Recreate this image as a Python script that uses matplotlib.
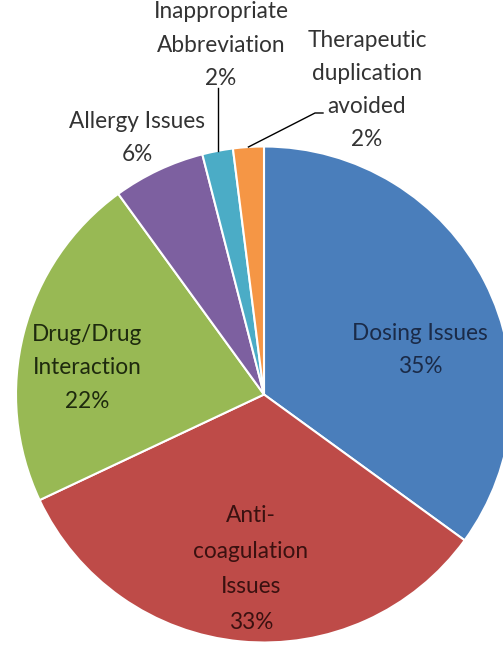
# Pie chart of intervention categories (Excel 2007 style)

import numpy as np
import matplotlib
matplotlib.use("Agg")
import matplotlib.pyplot as plt

# Data
categories = ['Dosing Issues', 'Anti-\ncoagulation\nIssues', 'Drug/Drug\nInteraction',
              'Allergy Issues', 'Inappropriate\nAbbreviation', 'Therapeutic\nduplication\navoided']
percents = [35, 33, 22, 6, 2, 2]

colors = ['#4A7EBB', '#BE4B48', '#98B954', '#7D60A0', '#4BACC6', '#F59645']
text_colors = ['#1B2B48', '#3A1110', '#1E2A0E', '#333333', '#333333', '#333333']

plt.rcParams['font.family'] = ['Lato', 'DejaVu Sans']

W, H = 503, 649
fig = plt.figure(figsize=(W / 100, H / 100), dpi=100)
ax = fig.add_axes([0, 0, 1, 1])

cx, cy, r = 264, H - 394.5, 248

wedges, _ = ax.pie(percents, colors=colors, startangle=90, counterclock=False,
                   center=(cx, cy), radius=r, frame=True,
                   wedgeprops=dict(edgecolor='white', linewidth=1.5))
ax.set_xlim(0, W)
ax.set_ylim(0, H)
ax.axis('off')

# label centres in pixel coords (x, y from top), line spacing per label
label_pos = [(420, 350), (251, 569), (87, 368), (137, 138), (221, 45), (367, 90)]
spacing = [1.72, 1.85, 1.72, 1.72, 1.72, 1.72]

for cat, p, tc, (lx, ly), ls in zip(categories, percents, text_colors, label_pos, spacing):
    ax.text(lx, H - ly, f"{cat}\n{p}%", ha='center', va='center', multialignment='center',
            fontsize=16.3, color=tc, linespacing=ls)

# leader lines for the two small slices
cum = np.cumsum(percents)
mids = (cum - np.array(percents) / 2) / 100.0
ang4 = np.deg2rad(90 - 360 * mids[4])
ang5 = np.deg2rad(90 - 360 * mids[5])
x4, y4 = cx + r * np.cos(ang4), cy + r * np.sin(ang4)
x5, y5 = cx + r * np.cos(ang5), cy + r * np.sin(ang5)
ax.plot([x4, x4], [y4, H - 88], color='black', linewidth=1)
ax.plot([x5, 315, 323], [y5, H - 113, H - 113], color='black', linewidth=1)

fig.savefig('out.png', dpi=100)
